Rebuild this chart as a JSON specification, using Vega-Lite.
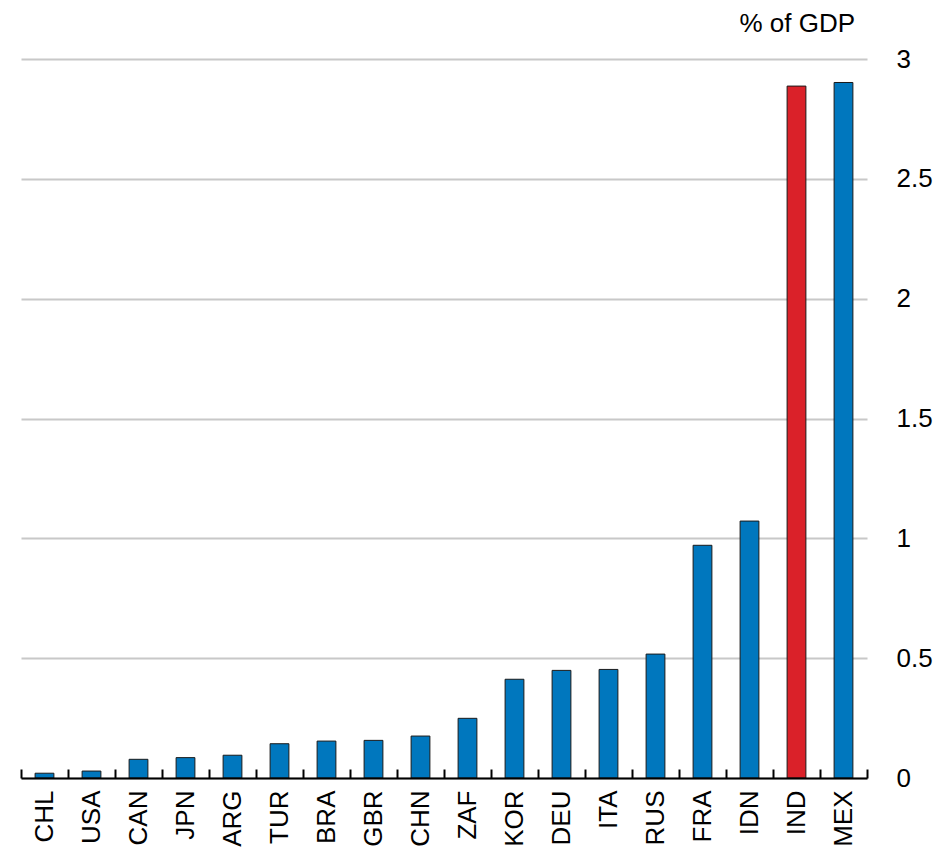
{
  "$schema": "https://vega.github.io/schema/vega-lite/v6.json",
  "width": 846,
  "height": 719,
  "autosize": {"type": "none"},
  "padding": {"left": 21, "top": 59, "right": 73, "bottom": 70},
  "background": "white",
  "title": {
    "text": "% of GDP",
    "anchor": "end",
    "frame": "group",
    "orient": "top",
    "baseline": "alphabetic",
    "offset": -12,
    "dx": -12,
    "font": "Liberation Sans",
    "fontSize": 26,
    "fontWeight": "normal",
    "color": "#000000"
  },
  "config": {
    "view": {"stroke": null},
    "font": "Liberation Sans"
  },
  "data": {
    "values": [
      {"country": "CHL", "value": 0.02, "highlight": "no"},
      {"country": "USA", "value": 0.029, "highlight": "no"},
      {"country": "CAN", "value": 0.078, "highlight": "no"},
      {"country": "JPN", "value": 0.085, "highlight": "no"},
      {"country": "ARG", "value": 0.095, "highlight": "no"},
      {"country": "TUR", "value": 0.143, "highlight": "no"},
      {"country": "BRA", "value": 0.154, "highlight": "no"},
      {"country": "GBR", "value": 0.157, "highlight": "no"},
      {"country": "CHN", "value": 0.175, "highlight": "no"},
      {"country": "ZAF", "value": 0.249, "highlight": "no"},
      {"country": "KOR", "value": 0.412, "highlight": "no"},
      {"country": "DEU", "value": 0.449, "highlight": "no"},
      {"country": "ITA", "value": 0.453, "highlight": "no"},
      {"country": "RUS", "value": 0.517, "highlight": "no"},
      {"country": "FRA", "value": 0.971, "highlight": "no"},
      {"country": "IDN", "value": 1.072, "highlight": "no"},
      {"country": "IND", "value": 2.887, "highlight": "yes"},
      {"country": "MEX", "value": 2.902, "highlight": "no"}
    ]
  },
  "mark": {"type": "bar", "stroke": "#1a1a1a", "strokeWidth": 1, "width": {"band": 0.4}},
  "encoding": {
    "x": {
      "field": "country",
      "type": "nominal",
      "sort": null,
      "scale": {"paddingInner": 0, "paddingOuter": 0},
      "axis": {
        "title": null,
        "orient": "bottom",
        "zindex": 1,
        "domain": true,
        "domainColor": "#000000",
        "domainWidth": 2,
        "ticks": true,
        "tickBand": "extent",
        "tickColor": "#000000",
        "tickWidth": 2,
        "tickSize": -9,
        "labelAngle": -90,
        "labelAlign": "right",
        "labelBaseline": "middle",
        "labelPadding": 21,
        "labelFont": "Liberation Sans",
        "labelFontSize": 26,
        "labelColor": "#000000",
        "grid": false
      }
    },
    "y": {
      "field": "value",
      "type": "quantitative",
      "scale": {"domain": [0, 3], "nice": false},
      "axis": {
        "title": null,
        "orient": "right",
        "zindex": 0,
        "values": [0, 0.5, 1, 1.5, 2, 2.5, 3],
        "format": "~g",
        "domain": false,
        "ticks": false,
        "grid": true,
        "gridColor": "#c8c8c8",
        "gridWidth": 2,
        "labelPadding": 29,
        "labelAlign": "left",
        "labelBaseline": "middle",
        "labelFlush": false,
        "labelFont": "Liberation Sans",
        "labelFontSize": 26,
        "labelColor": "#000000"
      }
    },
    "color": {
      "field": "highlight",
      "type": "nominal",
      "scale": {"domain": ["no", "yes"], "range": ["#0077be", "#da2129"]},
      "legend": null
    }
  }
}
